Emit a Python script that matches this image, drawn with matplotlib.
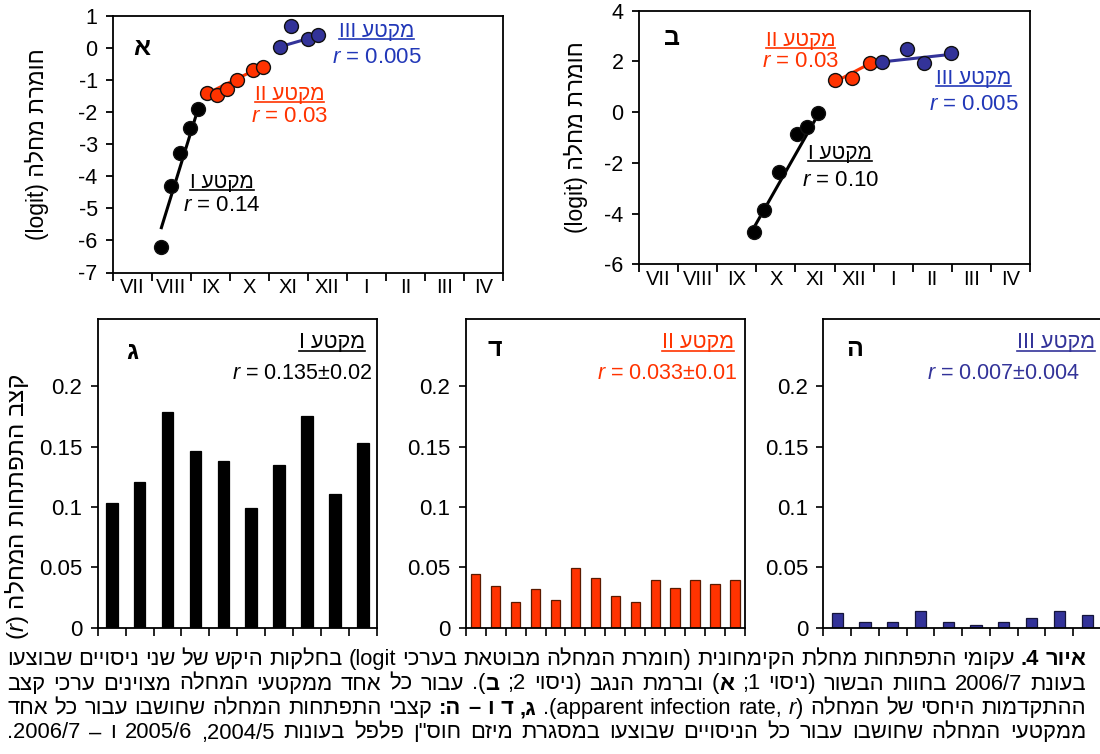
import re
import numpy as np
import matplotlib
matplotlib.use('Agg')
import matplotlib.pyplot as plt
from matplotlib.lines import Line2D
from matplotlib.font_manager import FontProperties

FAM = ['Liberation Sans', 'DejaVu Sans']
plt.rcParams['font.family'] = FAM
plt.rcParams['axes.unicode_minus'] = False
plt.rcParams['mathtext.fontset'] = 'custom'
plt.rcParams['mathtext.rm'] = 'Liberation Sans'
plt.rcParams['mathtext.it'] = 'Liberation Sans:italic'
plt.rcParams['mathtext.bf'] = 'Liberation Sans:bold'

# ------------------------------------------------------------------ data
months = ['VII', 'VIII', 'IX', 'X', 'XI', 'XII', 'I', 'II', 'III', 'IV']

# panel A (experiment 1): x = months since start of July, y = logit severity
a_seg1_x = [1.23, 1.48, 1.73, 1.97, 2.18]
a_seg1_y = [-6.22, -4.31, -3.28, -2.49, -1.91]
a_seg2_x = [2.41, 2.68, 2.93, 3.17, 3.58, 3.85]
a_seg2_y = [-1.40, -1.46, -1.28, -1.00, -0.70, -0.59]
a_seg3_x = [4.29, 4.58, 5.00, 5.26]
a_seg3_y = [0.03, 0.68, 0.26, 0.40]
a_fit1 = ([1.23, 2.21], [-5.65, -1.80])
a_fit2 = ([2.38, 3.85], [-1.45, -0.57])
a_fit3 = ([4.29, 5.26], [0.03, 0.37])

# panel B (experiment 2)
b_seg1_x = [2.94, 3.19, 3.57, 4.03, 4.30, 4.58]
b_seg1_y = [-4.71, -3.86, -2.37, -0.88, -0.59, -0.02]
b_seg2_x = [5.02, 5.45, 5.91]
b_seg2_y = [1.27, 1.35, 1.92]
b_seg3_x = [6.21, 6.86, 7.30, 7.99]
b_seg3_y = [1.98, 2.48, 1.92, 2.34]
b_fit1 = ([2.94, 4.58], [-4.55, -0.10])
b_fit2 = ([5.02, 5.91], [1.20, 1.92])
b_fit3 = ([6.21, 7.99], [1.98, 2.28])

# rates (r) per experiment for each disease segment
rates_I = [0.1036, 0.1204, 0.1785, 0.1467, 0.1378, 0.0989, 0.1351, 0.1751, 0.1105, 0.1528]
rates_II = [0.0442, 0.0343, 0.0215, 0.0318, 0.0227, 0.0492, 0.0409, 0.0265, 0.0215,
            0.0398, 0.0331, 0.0398, 0.0365, 0.0398]
rates_III = [0.0119, 0.0047, 0.0047, 0.0138, 0.0047, 0.0019, 0.0047, 0.0083, 0.0138, 0.0102]

top_a_yticks = [-7, -6, -5, -4, -3, -2, -1, 0, 1]
top_b_yticks = [-6, -4, -2, 0, 2, 4]
bottom_yticks = [0, 0.05, 0.1, 0.15, 0.2]
bottom_ylabels = ['0', '0.05', '0.1', '0.15', '0.2']

seg_names = ['מקטע I', 'מקטע II', 'מקטע III']
r_top_a = ['0.14', '0.03', '0.005']
r_top_b = ['0.10', '0.03', '0.005']
r_bottom = ['0.135±0.02', '0.033±0.01', '0.007±0.004']
panel_letters = ['א', 'ב', 'ג', 'ד', 'ה']
ylabel_top = 'חומרת מחלה (logit)'
ylabel_bottom = 'קצב התפתחות המחלה'

caption = [
    [("איור 4.", 'b'), (" עקומי התפתחות מחלת הקימחונית (חומרת המחלה מבוטאת בערכי logit) בחלקות היקש של שני ניסויים שבוצעו", 'n')],
    [("בעונת 2006/7 בחוות הבשור (ניסוי 1; ", 'n'), ("א", 'b'), (") וברמת הנגב (ניסוי 2; ", 'n'), ("ב", 'b'),
     ("). עבור כל אחד ממקטעי המחלה מצוינים ערכי קצב", 'n')],
    [("ההתקדמות היחסי של המחלה (apparent infection rate, ", 'n'), ("r", 'i'), ("). ", 'n'),
     ("ג, ד ו – ה:", 'b'), (" קצבי התפתחות המחלה שחושבו עבור כל אחד", 'n')],
    [("ממקטעי המחלה שחושבו עבור כל הניסויים שבוצעו במסגרת מיזם חוס\"ן פלפל בעונות 2004/5, 2005/6 ו – 2006/7.", 'n')],
]

BLACK = '#000000'
RED = '#ff3300'
BLUE = '#333399'
BLUE_TXT = '#2238b8'

# ------------------------------------------------------------------ bidi helper
MIRROR = {'(': ')', ')': '('}
TOKEN_RE = re.compile(r'[A-Za-z](?:[A-Za-z0-9 ,.]*[A-Za-z0-9])?|\d+(?:[./,]\d+)*')


def bidi(chars):
    s = ''.join(c for c, _ in chars)
    toks = []
    i = 0
    for m in TOKEN_RE.finditer(s):
        for j in range(i, m.start()):
            c, st = chars[j]
            toks.append([(MIRROR.get(c, c), st)])
        toks.append(list(chars[m.start():m.end()]))
        i = m.end()
    for j in range(i, len(s)):
        c, st = chars[j]
        toks.append([(MIRROR.get(c, c), st)])
    toks.reverse()
    return [c for t in toks for c in t]


def heb(s):
    return ''.join(c for c, _ in bidi([(ch, 'n') for ch in s]))


# ------------------------------------------------------------------ figure
W, H = 1100, 754
fig = plt.figure(figsize=(W / 100, H / 100), dpi=100)


def box(l, t, r, b):
    return [l / W, 1 - b / H, (r - l) / W, (b - t) / H]


axA = fig.add_axes(box(113, 15.5, 502.7, 272.5))
axB = fig.add_axes(box(639, 10.7, 1030, 264.3))
axC = fig.add_axes(box(97.7, 319, 377, 627.7))
axD = fig.add_axes(box(465.7, 319, 745, 627.7))
axE = fig.add_axes(box(823.3, 319, 1101, 627.7))


def setup_top(ax, yt):
    ax.set_xlim(0, len(months))
    ax.set_ylim(yt[0], yt[-1])
    ax.set_xticks(np.arange(len(months) + 1))
    ax.set_xticklabels([])
    ax.set_xticks(np.arange(len(months)) + 0.5, minor=True)
    ax.set_xticklabels(months, minor=True)
    ax.tick_params(axis='x', which='major', direction='out', length=6, width=1.3)
    ax.tick_params(axis='x', which='minor', length=0, pad=4, labelsize=14.5)
    ax.set_yticks(yt)
    ax.set_yticklabels([str(v) for v in yt])
    ax.tick_params(axis='y', direction='out', length=5, width=1.3, pad=6, labelsize=15.5)
    for sp in ax.spines.values():
        sp.set_linewidth(1.3)


setup_top(axA, top_a_yticks)
setup_top(axB, top_b_yticks)

for ax, segs, fits in [
    (axA, [(a_seg1_x, a_seg1_y), (a_seg2_x, a_seg2_y), (a_seg3_x, a_seg3_y)], [a_fit1, a_fit2, a_fit3]),
    (axB, [(b_seg1_x, b_seg1_y), (b_seg2_x, b_seg2_y), (b_seg3_x, b_seg3_y)], [b_fit1, b_fit2, b_fit3]),
]:
    for (sx, sy), (fx, fy), col in zip(segs, fits, [BLACK, RED, BLUE]):
        ax.plot(fx, fy, color=col, lw=2.2, zorder=2, solid_capstyle='butt')
        ax.plot(sx, sy, 'o', ms=10, color=col, mec='#111111', mew=1.0, zorder=3)

ylab_heb = heb(ylabel_top)
axA.set_ylabel(ylab_heb, fontsize=16.5)
axA.yaxis.set_label_coords(-0.165, 0.5)
axB.set_ylabel(ylab_heb, fontsize=16.5)
axB.yaxis.set_label_coords(-0.13, 0.5)

underline_items = []


def seg_text(ax, x, y, idx, rval, col, coords='data', ha='center', xr=None, yr=None, fs=15, fr=16):
    tr = ax.transData if coords == 'data' else ax.transAxes
    t = ax.text(x, y, heb(seg_names[idx]), transform=tr, ha=ha, va='center', fontsize=fs, color=col)
    underline_items.append((t, col))
    ax.text(xr if xr is not None else x, yr, r'$r$ = ' + rval, transform=tr, ha=ha, va='center',
            fontsize=fr, color=col)


# panel A annotations
axA.text(0.73, -0.02, panel_letters[0], ha='center', va='center', fontsize=18, fontweight='bold')
seg_text(axA, 2.79, -4.20, 0, r_top_a[0], BLACK, yr=-4.90)
seg_text(axA, 4.53, -1.45, 1, r_top_a[1], RED, yr=-2.13)
seg_text(axA, 6.76, 0.50, 2, r_top_a[2], BLUE_TXT, yr=-0.30)

# panel B annotations
axB.text(0.84, 2.91, panel_letters[1], ha='center', va='center', fontsize=18, fontweight='bold')
seg_text(axB, 5.15, -1.62, 0, r_top_b[0], BLACK, yr=-2.68)
seg_text(axB, 4.13, 2.82, 1, r_top_b[1], RED, yr=1.99)
seg_text(axB, 8.56, 1.33, 2, r_top_b[2], BLUE_TXT, yr=0.32)


# bottom panels
def setup_bottom(ax, vals, col, edge, width):
    n = len(vals)
    ax.bar(np.arange(n) + 0.5, vals, width=width, color=col, edgecolor=edge, linewidth=0.9, zorder=2)
    ax.set_xlim(0, n)
    ax.set_ylim(0, 0.2557)
    ax.set_xticks(np.arange(n + 1))
    ax.set_xticklabels([])
    ax.set_yticks(bottom_yticks)
    ax.set_yticklabels(bottom_ylabels)
    ax.tick_params(axis='x', direction='out', length=6, width=1.2)
    ax.tick_params(axis='y', direction='out', length=5, width=1.2, pad=6, labelsize=16)
    for sp in ax.spines.values():
        sp.set_linewidth(1.3)


setup_bottom(axC, rates_I, BLACK, BLACK, 0.42)
setup_bottom(axD, rates_II, RED, '#5a1a00', 0.47)
setup_bottom(axE, rates_III, BLUE, '#15153a', 0.40)

axC.set_ylabel('($r$) ' + heb(ylabel_bottom), fontsize=17.5)
axC.yaxis.set_label_coords(-0.238, 0.39)

for ax, letter, lx, ly in [(axC, panel_letters[2], 0.123, 0.893), (axD, panel_letters[3], 0.105, 0.903),
                           (axE, panel_letters[4], 0.114, 0.903)]:
    ax.text(lx, ly, letter, transform=ax.transAxes, ha='center', va='center', fontsize=18, fontweight='bold')

seg_text(axC, 0.957, 0.925, 0, r_bottom[0], BLACK, coords='axes', ha='right', xr=0.982, yr=0.825, fs=15.5, fr=15.5)
seg_text(axD, 0.961, 0.925, 1, r_bottom[1], RED, coords='axes', ha='right', xr=0.971, yr=0.825, fs=15.5, fr=15.5)
seg_text(axE, 0.977, 0.925, 2, r_bottom[2], BLUE, coords='axes', ha='right', xr=0.923, yr=0.825, fs=15.5, fr=15.5)

# ------------------------------------------------------------------ underline + caption
fig.canvas.draw()
renderer = fig.canvas.get_renderer()
for t, col in underline_items:
    bb = t.get_window_extent(renderer)
    yline = (bb.y0 + 2.0) / H
    fig.add_artist(Line2D([bb.x0 / W, bb.x1 / W], [yline, yline], transform=fig.transFigure,
                          color=col, lw=1.2))


def fprop(st, size):
    return FontProperties(family=FAM, size=size, weight='bold' if st == 'b' else 'normal',
                          style='italic' if st == 'i' else 'normal')


def run_width(s, st, size):
    p = fprop(st, size)
    w1 = renderer.get_text_width_height_descent('X' + s + 'X', p, ismath=False)[0]
    w2 = renderer.get_text_width_height_descent('XX', p, ismath=False)[0]
    return w1 - w2


def visual_words(line):
    chars = [(ch, st) for txt, st in line for ch in txt]
    vis = bidi(chars)
    words, cur = [], []
    for c, st in vis:
        if c == ' ':
            if cur:
                words.append(cur)
                cur = []
        else:
            cur.append((c, st))
    if cur:
        words.append(cur)
    out = []
    for w in words:
        runs = []
        for c, st in w:
            if runs and runs[-1][1] == st:
                runs[-1][0] += c
            else:
                runs.append([c, st])
        out.append(runs)
    return out


CAP_L, CAP_R = 7, 1086
cap_baselines = [665.0, 689.5, 714.0, 738.5]
lines_vis = [visual_words(l) for l in caption]


def natural(lv, size):
    sp = run_width(' ', 'n', size)
    return sum(run_width(r, st, size) for w in lv for r, st in w) + sp * (len(lv) - 1)


base = 10.0
maxnat = max(natural(lv, base) for lv in lines_vis)
csize = min(16.0, base * (CAP_R - CAP_L) / maxnat)

for lv, yb in zip(lines_vis, cap_baselines):
    widths = [[run_width(r, st, csize) for r, st in w] for w in lv]
    total = sum(sum(ws) for ws in widths)
    gap = (CAP_R - CAP_L - total) / (len(lv) - 1)
    x = CAP_L
    for w, ws in zip(lv, widths):
        for (r, st), rw in zip(w, ws):
            fig.text(x / W, 1 - yb / H, r, ha='left', va='baseline', fontproperties=fprop(st, csize))
            x += rw
        x += gap

fig.savefig('out.png', dpi=100)
